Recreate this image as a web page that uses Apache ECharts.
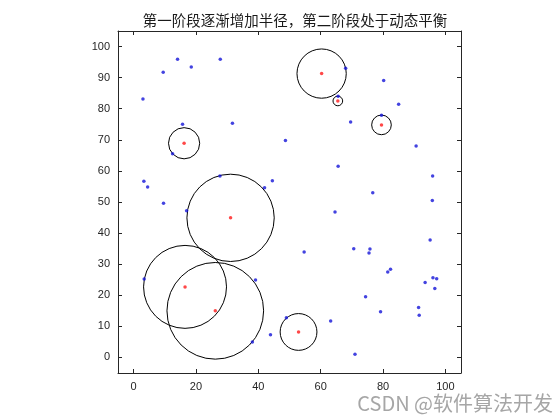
<!DOCTYPE html>
<html><head><meta charset="utf-8">
<script src="https://cdn.jsdelivr.net/npm/echarts@6/dist/echarts.min.js"></script>
<style>html,body{margin:0;padding:0;background:#fff}#c{width:560px;height:420px}</style>
</head><body><div id="c"></div>
<script>
const titleText = '第一阶段逐渐增加半径，第二阶段处于动态平衡';
const xTicks = [0, 20, 40, 60, 80, 100];
const yTicks = [0, 10, 20, 30, 40, 50, 60, 70, 80, 90, 100];
const blueX = [14.1, 27.8, 18.5, 9.5, 3.0, 15.7, 31.7, 48.7, 12.5, 3.3, 4.5, 27.7, 44.5, 42.0, 9.6, 17.0,
  68.0, 80.2, 65.6, 85.0, 69.6, 79.5, 90.6, 65.6, 95.9, 76.7, 95.8,
  3.4, 39.1, 38.1, 43.9, 49.0,
  64.6, 95.1, 54.7, 70.6, 75.8, 75.5, 82.4, 81.5, 93.5, 96.0, 97.2, 96.6, 74.4, 79.2, 91.4, 91.6, 63.2, 71.0];
const blueY = [95.9, 95.9, 93.4, 91.7, 83.1, 75.0, 75.3, 69.8, 65.5, 56.7, 54.8, 58.4, 56.8, 54.6, 49.6, 47.2,
  93.0, 89.1, 84.0, 81.4, 75.7, 77.9, 68.0, 61.5, 58.4, 53.0, 50.5,
  25.2, 24.9, 5.0, 7.3, 12.8,
  46.8, 37.8, 33.9, 35.0, 34.9, 33.6, 28.4, 27.5, 24.1, 25.6, 25.3, 22.2, 19.5, 14.7, 16.1, 13.6, 11.7, 1.0];
const centerX = [16.2, 31.1, 60.3, 65.5, 79.5, 16.5, 26.2, 52.9];
const centerY = [68.9, 44.9, 91.3, 82.5, 74.8, 22.7, 15.0, 8.2];
const radius  = [5.0, 14.0, 7.9, 1.55, 3.15, 13.3, 15.5, 5.9];

const axisCol = '#262626';
function xAx(pos, showLabel) {
  return {type:'value', min:-5, max:105, position:pos,
    axisLine:{show:true, onZero:false, lineStyle:{color:axisCol, width:1}},
    axisTick:{show:true, inside:true, length:4, customValues:xTicks, lineStyle:{color:axisCol}},
    axisLabel:{show:showLabel, customValues:xTicks, color:axisCol, fontSize:11, fontFamily:'Liberation Sans, Arial', margin:8},
    splitLine:{show:false}};
}
function yAx(pos, showLabel) {
  return {type:'value', min:-5, max:105, position:pos,
    axisLine:{show:true, onZero:false, lineStyle:{color:axisCol, width:1}},
    axisTick:{show:true, inside:true, length:4, customValues:yTicks, lineStyle:{color:axisCol}},
    axisLabel:{show:showLabel, customValues:yTicks, color:axisCol, fontSize:11, fontFamily:'Liberation Sans, Arial', margin:8},
    splitLine:{show:false}};
}
const chart = echarts.init(document.getElementById('c'), null, {renderer:'canvas'});
chart.setOption({
  animation:false,
  backgroundColor:'#fff',
  title:{text:titleText, left:290, top:8, textAlign:'center',
    textStyle:{fontSize:14.5, fontWeight:'normal', color:'#1a1a1a', fontFamily:'Noto Sans CJK SC'}},
  grid:{left:118, top:31, width:343, height:342, show:false},
  xAxis:[xAx('bottom', true), xAx('top', false)],
  yAxis:[yAx('left', true), yAx('right', false)],
  graphic:[{type:'text', right:7, bottom:7, style:{text:'CSDN @软件算法开发', fontSize:20, fill:'#a6a6a6', fontFamily:'Noto Sans CJK SC'}}],
  series:[
    {type:'custom', coordinateSystem:'cartesian2d', xAxisIndex:0, yAxisIndex:0,
      data: centerX.map((x,i)=>[x, centerY[i], radius[i]]),
      renderItem:function(params, api){
        const c = api.coord([api.value(0), api.value(1)]);
        const r = api.size([api.value(2), 0])[0];
        return {type:'circle', shape:{cx:c[0], cy:c[1], r:r}, style:{fill:null, stroke:'#000', lineWidth:1}};
      }, z:2},
    {type:'scatter', xAxisIndex:0, yAxisIndex:0, symbolSize:3.5, itemStyle:{color:'#1414d8'},
      data: blueX.map((x,i)=>[x, blueY[i]]), z:3},
    {type:'scatter', xAxisIndex:0, yAxisIndex:0, symbolSize:3.5, itemStyle:{color:'#ff1a1a'},
      data: centerX.map((x,i)=>[x, centerY[i]]), z:4}
  ]
});
</script></body></html>
